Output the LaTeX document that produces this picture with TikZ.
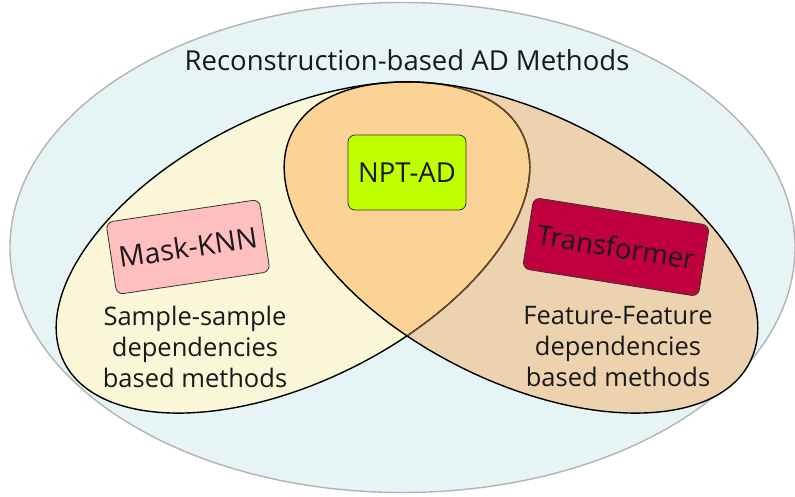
\documentclass[tikz,border=0pt]{standalone}
\usepackage{fontspec}
\setmainfont{Open Sans}
\begin{document}
\begin{tikzpicture}[x=1pt,y=-1pt,
  outerc/.style={fill=outerfill,draw=outerline,line width=1.4pt},
  setline/.style={line width=1.4pt},
  box/.style={rounded corners=7pt,draw=black!80,line width=0.8pt,minimum width=#1,minimum height=72pt,inner sep=0pt,font=\fontsize{27.5}{31}\selectfont,text=black!90},
  lbl/.style={align=center,font=\fontsize{25.5}{31}\selectfont,text=black!90}]
\definecolor{outerfill}{HTML}{E6F4F6}
\definecolor{outerline}{HTML}{B3B3B3}
\definecolor{leftfill}{HTML}{F9F7D7}
\definecolor{rightfill}{HTML}{EDD2AF}
\definecolor{lensfill}{HTML}{FAD395}
\definecolor{lensline}{HTML}{6B4A2B}
\definecolor{maskfill}{HTML}{FFBFBF}
\definecolor{transfill}{HTML}{C0003F}
\definecolor{nptfill}{HTML}{C0FF00}
\useasboundingbox (0,0) rectangle (795,497);
% outer
\coordinate (oc) at (402.5,247.5);
\path[outerc] (oc) ellipse [x radius=392.5pt, y radius=245pt];
\coordinate (lc) at (293,247.5);
\coordinate (rc) at (521,247.5);
\fill[leftfill,rotate around={26.5:(lc)}] (lc) ellipse [x radius=256pt, y radius=134pt];
\fill[rightfill,rotate around={-26.5:(rc)}] (rc) ellipse [x radius=256pt, y radius=134pt];
\begin{scope}
  \clip[rotate around={-26.5:(rc)}] (rc) ellipse [x radius=256pt, y radius=134pt];
  \fill[lensfill,rotate around={26.5:(lc)}] (lc) ellipse [x radius=256pt, y radius=134pt];
\end{scope}
\draw[setline,rotate around={26.5:(lc)}] (lc) ellipse [x radius=256pt, y radius=134pt];
\begin{scope}
  \clip[rotate around={-26.5:(rc)}] (rc) ellipse [x radius=256pt, y radius=134pt];
  \draw[setline,lensline,rotate around={26.5:(lc)}] (lc) ellipse [x radius=256pt, y radius=134pt];
\end{scope}
\draw[setline,rotate around={-26.5:(rc)}] (rc) ellipse [x radius=256pt, y radius=134pt];
% texts
\node[font=\fontsize{27.5}{31}\selectfont,text=black!90] (title) at (407,60) {Reconstruction-based AD Methods};
\node[box=118pt,minimum height=75pt,fill=nptfill] (npt) at (407,172.5) {NPT-AD};
\node[box=155pt,minimum height=73pt,fill=maskfill,rotate=8.5,font=\fontsize{28.5}{31}\selectfont] (mask) at (188,247) {Mask-KNN};
\node[box=178pt,minimum height=72pt,fill=transfill,rotate=-9] (trans) at (616,247) {Transformer};
\node[lbl] (ss) at (195,347) {Sample-sample\\dependencies\\based methods};
\node[lbl] (ff) at (618,347) {Feature-Feature\\dependencies\\based methods};
\end{tikzpicture}
\end{document}
